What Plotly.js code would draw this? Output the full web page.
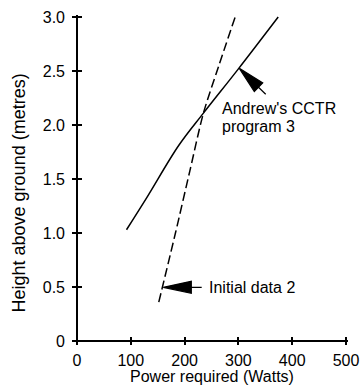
<!DOCTYPE html>
<html>
<head>
<meta charset="utf-8">
<script src="https://cdn.plot.ly/plotly-3.0.1.min.js"></script>
<style>html,body{margin:0;padding:0;background:#fff;}#chart{width:360px;height:385px;}</style>
</head>
<body>
<div id="chart"></div>
<script>
// Data
const cctrPower = [92, 130, 189, 235, 300, 374];
const cctrHeight = [1.03, 1.33, 1.81, 2.11, 2.52, 3.0];
const initPower = [152, 183, 210, 235, 263, 294];
const initHeight = [0.36, 1.0, 1.58, 2.11, 2.54, 3.0];
const xTickVals = [0, 100, 200, 300, 400, 500];
const xTickText = ['0', '100', '200', '300', '400', '500'];
const yTickVals = [0, 0.5, 1.0, 1.5, 2.0, 2.5, 3.0];
const yTickText = ['0', '0.5', '1.0', '1.5', '2.0', '2.5', '3.0'];
const cctrLabel = ["Andrew's CCTR", 'program 3'];
const initLabel = 'Initial data 2';
const xTitle = 'Power required (Watts)';
const yTitle = 'Height above ground (metres)';

const FONT = 'Liberation Sans, Arial, Helvetica, sans-serif';

// The plot area extends a few pixels past the zero axes so that the ticks,
// drawn "inside" from the edge, straddle the zero lines (which act as the axis lines).
const X_PAD_PX = 5, Y_PAD_PX = 4, END_PAD_PX = 2;
const PX_PER_X = 269 / 500, PX_PER_Y = 324 / 3;

const traces = [
  {x: cctrPower, y: cctrHeight, type: 'scatter', mode: 'lines',
   line: {color: '#000', width: 1.5, shape: 'spline', smoothing: 1}, hoverinfo: 'skip'},
  {x: initPower, y: initHeight, type: 'scatter', mode: 'lines',
   line: {color: '#000', width: 1.5, dash: '9px,4px', shape: 'spline', smoothing: 0.8}, hoverinfo: 'skip'}
];

const layout = {
  width: 360, height: 385,
  margin: {l: 77 - X_PAD_PX, r: 14 - END_PAD_PX, t: 17 - END_PAD_PX, b: 44 - Y_PAD_PX, pad: 0},
  paper_bgcolor: '#fff', plot_bgcolor: '#fff',
  showlegend: false,
  font: {family: FONT, size: 16, color: '#000'},
  xaxis: {range: [-X_PAD_PX / PX_PER_X, 500 + END_PAD_PX / PX_PER_X], tickmode: 'array', tickvals: xTickVals, ticktext: xTickText,
    ticks: 'inside', ticklen: 2 * Y_PAD_PX, tickwidth: 2, tickcolor: '#000',
    showline: false, showgrid: false, zeroline: true, zerolinewidth: 2, zerolinecolor: '#000',
    tickfont: {size: 16}, ticklabelstandoff: 4, fixedrange: true},
  yaxis: {range: [-Y_PAD_PX / PX_PER_Y, 3 + END_PAD_PX / PX_PER_Y], tickmode: 'array', tickvals: yTickVals, ticktext: yTickText,
    ticks: 'inside', ticklen: 2 * X_PAD_PX, tickwidth: 2, tickcolor: '#000',
    showline: false, showgrid: false, zeroline: true, zerolinewidth: 2, zerolinecolor: '#000',
    tickfont: {size: 16}, ticklabelstandoff: 6, fixedrange: true},
  annotations: [
    {text: cctrLabel[0], x: 266, y: 2.155, xref: 'x', yref: 'y', xanchor: 'left', yanchor: 'middle', showarrow: false, font: {size: 16}},
    {text: cctrLabel[1], x: 266, y: 1.99, xref: 'x', yref: 'y', xanchor: 'left', yanchor: 'middle', showarrow: false, font: {size: 16}},
    {text: initLabel, x: 241, y: 0.497, xref: 'x', yref: 'y', xanchor: 'left', yanchor: 'middle', showarrow: false, font: {size: 16}},
    {text: xTitle, x: 250, y: 0, xref: 'x', yref: 'paper', xanchor: 'center', yanchor: 'middle', yshift: -31, showarrow: false, font: {size: 16}},
    {text: yTitle, x: 0, y: 1.366, xref: 'paper', yref: 'y', xanchor: 'center', yanchor: 'middle', xshift: -53, textangle: -90, showarrow: false, font: {size: 18}}
  ],
  shapes: [
    {type: 'path', xref: 'x', yref: 'y', xsizemode: 'pixel', ysizemode: 'pixel', xanchor: 301.7, yanchor: 2.525,
     path: 'M0,0 L23.4,-14.6 L15,-23.2 Z M19.2,-18.9 L26.4,-26', fillcolor: '#000', line: {color: '#000', width: 1.2}},
    {type: 'path', xref: 'x', yref: 'y', xsizemode: 'pixel', ysizemode: 'pixel', xanchor: 160.4, yanchor: 0.497,
     path: 'M0,0 L28,6 L28,-6 Z M28,0 L38.4,0', fillcolor: '#000', line: {color: '#000', width: 1.2}}
  ]
};

Plotly.newPlot('chart', traces, layout, {displayModeBar: false, staticPlot: true});
</script>
</body>
</html>
